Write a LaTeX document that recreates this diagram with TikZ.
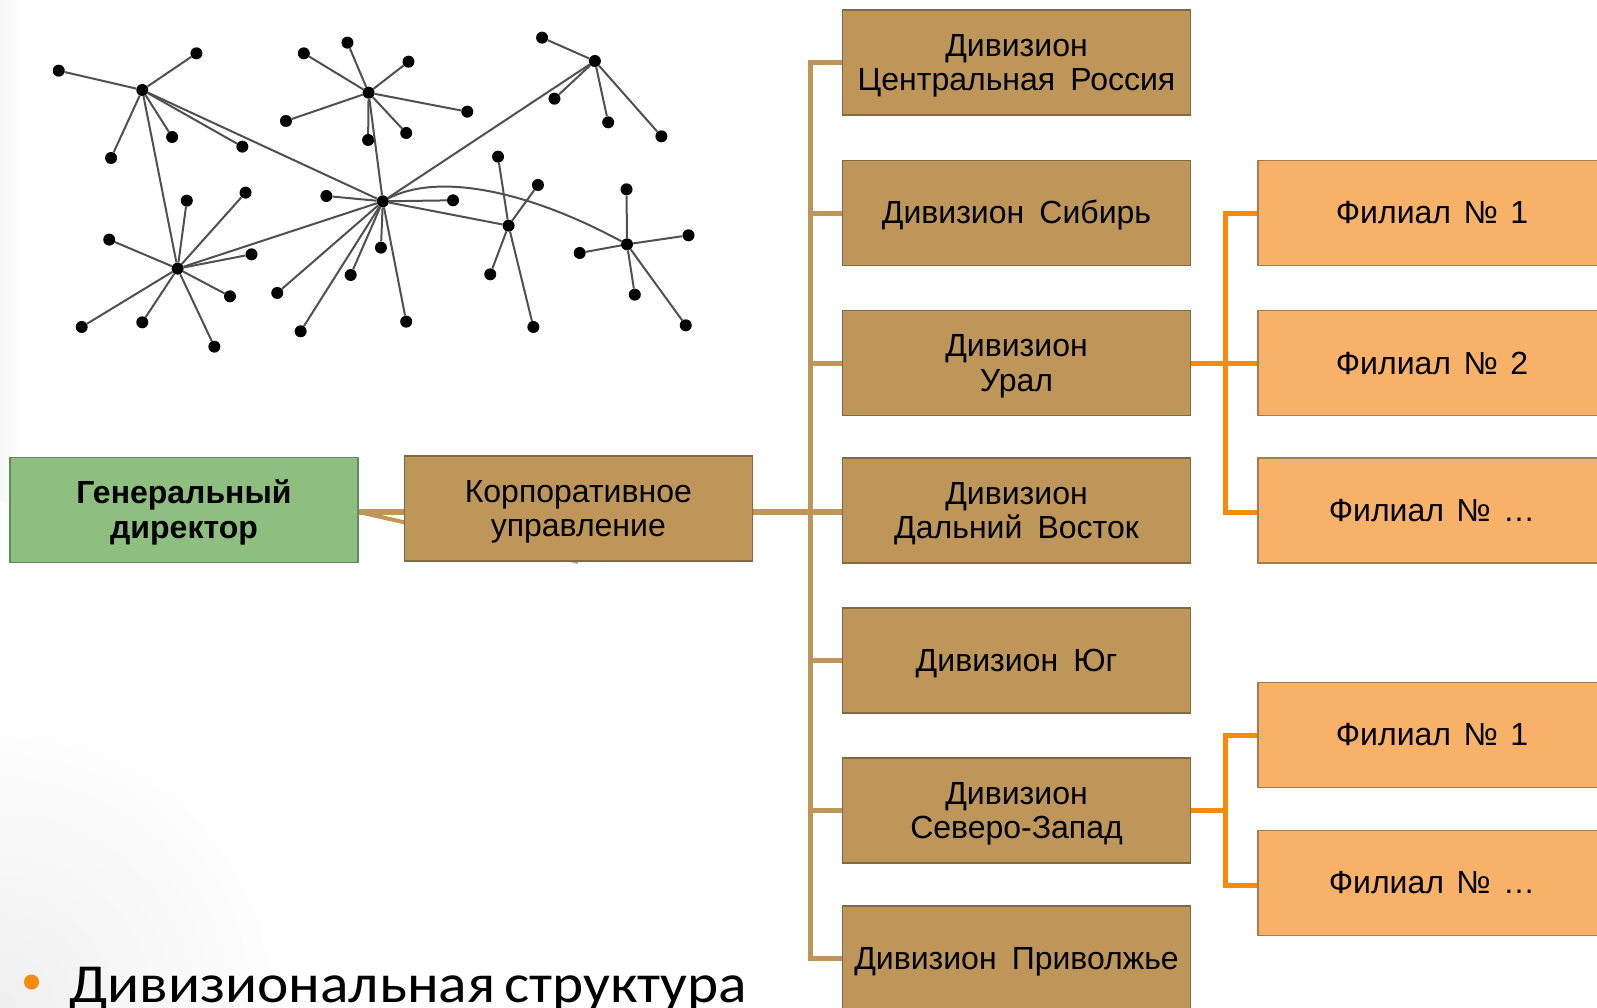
\documentclass[tikz,border=0pt]{standalone}
\usepackage{fontspec}
\setmainfont[WordSpace=1.7]{Liberation Sans}
\newfontfamily\filfont[WordSpace=1.4]{Liberation Sans}
\newfontfamily\bulletfont[FakeStretch=1.08,WordSpace=0.65]{Carlito}
\usetikzlibrary{backgrounds}
\definecolor{tan}{HTML}{BE965A}
\definecolor{tanb}{HTML}{7F6A45}
\definecolor{grn}{HTML}{8EBF80}
\definecolor{grnb}{HTML}{628A64}
\definecolor{org}{HTML}{F7B169}
\definecolor{orgb}{HTML}{A67C4C}
\definecolor{orgl}{HTML}{F58A0B}
\definecolor{net}{HTML}{505050}
\newcommand\twolines[2]{\begin{tabular}{@{}c@{}}\rule{0pt}{32pt}#1\\#2\end{tabular}}
\tikzset{
  box/.style={draw,line width=1.6pt,minimum width=348pt,minimum height=105pt,inner sep=0pt,font=\fontsize{32}{34.5}\selectfont},
  divbox/.style={box,fill=tan,draw=tanb,execute at begin node={\rule{0pt}{28pt}}},
  genbox/.style={box,fill=grn,draw=grnb,font=\fontsize{32}{34.5}\selectfont\bfseries},
  filbox/.style={box,fill=org,draw=orgb,font=\filfont\fontsize{32}{34.5}\selectfont},
  tanline/.style={draw=tan,line width=5pt},
  orgline/.style={draw=orgl,line width=5pt},
  dot/.style={circle,fill=black,inner sep=0pt,minimum size=12pt},
  link/.style={draw=net,line width=2pt}
}
\begin{document}
\begin{tikzpicture}[x=1pt,y=-1pt]
\useasboundingbox (0,0) rectangle (1597,1007);

\node[genbox] (gen) at (184,510) {\twolines{Генеральный}{директор}};
\node[divbox] (corp) at (578.3,508.5) {\twolines{Корпоративное}{управление}};
\node[divbox] (d1) at (1016.5,62.5) {\twolines{Дивизион}{Центральная Россия}};
\node[divbox] (d2) at (1016.5,213) {Дивизион Сибирь};
\node[divbox] (d3) at (1016.5,363) {\twolines{Дивизион}{Урал}};
\node[divbox] (d4) at (1016.5,510.5) {\twolines{Дивизион}{Дальний Восток}};
\node[divbox] (d5) at (1016.5,660.5) {Дивизион Юг};
\node[divbox] (d6) at (1016.5,810.5) {\twolines{Дивизион}{Северо-Запад}};
\node[divbox] (d7) at (1016.5,958.5) {Дивизион Приволжье};
\node[filbox] (f1) at (1432,213) {Филиал № 1};
\node[filbox] (f2) at (1432,363) {Филиал № 2};
\node[filbox] (f3) at (1432,510.5) {Филиал № …};
\node[filbox] (f4) at (1432,735) {Филиал № 1};
\node[filbox] (f5) at (1432,883) {Филиал № …};
\coordinate (t) at (810.5,512);
\coordinate (o1) at (1225,363);
\coordinate (o2) at (1225,810.5);

\begin{scope}[on background layer]
\fill[white] (0,0) rectangle (1597,1007);
\shade[left color=black!3,right color=white] (0,0) rectangle (22,500);
\begin{scope}
\clip (0,0) rectangle (1597,1007);
\shade[inner color=black!6,outer color=white] (0,1007) circle (300);
\end{scope}
\draw[tanline,line width=6pt] (gen.east |- t) -- (corp.west |- t);
\draw[tanline,line width=4pt] (gen.east |- t) -- (corp.south);
\end{scope}
\draw[tanline,line width=6pt] (corp.east |- t) -- (t) -- (t -| d4.west);
\draw[tanline] (d1.west) -| (t) |- (d7.west);
\foreach \d in {d2,d3,d5,d6} \draw[tanline] (\d.west) -- (t |- \d.west);
\draw[orgline] (d3.east) -- (f2.west);
\draw[orgline] (f1.west) -| (o1) |- ([yshift=-1.5pt]f3.west);
\draw[orgline] (d6.east) -- (o2);
\draw[orgline] (f4.west) -| (o2) |- ([yshift=-2pt]f5.west);

\begin{scope}[x=0.459pt,y=-0.3333pt]
\foreach \n/\x/\y in {
 c/834/604,h1/310/270,h2/803/278,h3/1296/183,h4/387/806,h5/1108/677,h6/1366/733,
 a1/128/212,a2/428/160,a3/242/474,a4/375/411,a5/528/440,
 b1/662/160,b2/757/128,b3/890/185,b4/623/363,b5/1018/335,b6/885/399,b7/802/420,
 e1/1181/113,e2/1208/296,e3/1325/367,e4/1441/409,
 g1/407/602,g2/535/578,g3/238/719,g4/548/763,g5/501/889,g6/178/981,g7/310/967,g8/467/1040,
 k1/711/588,k2/987/601,k3/830/743,k4/764/825,k5/604/879,k6/655/994,k7/885/965,
 m1/1085/470,m2/1172/555,m3/1068/823,m4/1162/981,
 n1/1365/568,n2/1500/706,n3/1263/759,n4/1383/884,n5/1494/976}
 \node[dot] (\n) at (\x,\y) {};
\foreach \a/\b in {h1/a1,h1/a2,h1/a3,h1/a4,h1/a5,h1/c,h1/h4,
 h2/b1,h2/b2,h2/b3,h2/b4,h2/b5,h2/b6,h2/b7,h2/c,
 h3/e1,h3/e2,h3/e3,h3/e4,h3/c,
 h4/g1,h4/g2,h4/g3,h4/g4,h4/g5,h4/g6,h4/g7,h4/g8,h4/c,
 c/k1,c/k2,c/k3,c/k4,c/k5,c/k6,c/k7,c/h5,
 h5/m1,h5/m2,h5/m3,h5/m4,
 h6/n1,h6/n2,h6/n3,h6/n4,h6/n5}
 \draw[link] (\a) -- (\b);
\draw[link] (c) .. controls (950,520) and (1140,565) .. (h6);
\end{scope}

\node[circle,fill=orgl,inner sep=0pt,minimum size=15pt] (bul) at (31.5,982) {};
\node[anchor=base west,inner sep=0pt,font=\bulletfont\fontsize{55}{55}\selectfont] (title) at (69,1002) {Дивизиональная структура};
\end{tikzpicture}
\end{document}
